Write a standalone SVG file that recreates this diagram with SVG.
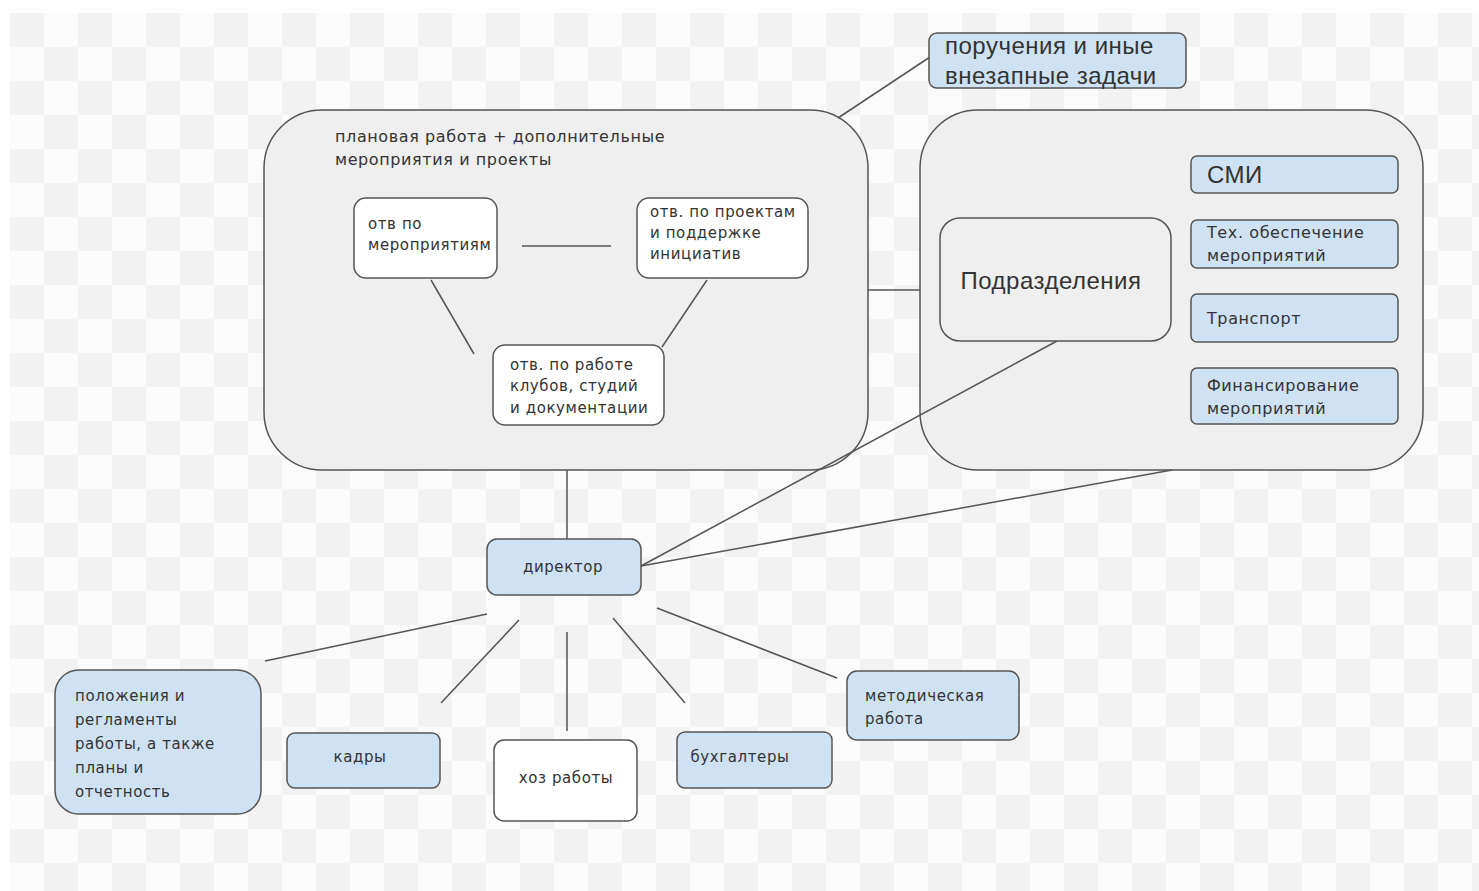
<svg xmlns="http://www.w3.org/2000/svg" width="1479" height="891" viewBox="0 0 1479 891">
<defs>
<pattern id="chk" x="10" y="13" width="68" height="68" patternUnits="userSpaceOnUse">
<rect width="68" height="68" fill="#fbfbfb"/>
<rect width="34" height="34" fill="#f2f2f2"/>
<rect x="34" y="34" width="34" height="34" fill="#f2f2f2"/>
</pattern>
<style>
.t{font-family:"DejaVu Sans",Verdana,sans-serif;font-size:15px;letter-spacing:0.6px;fill:#333}
.t16{font-family:"DejaVu Sans",Verdana,sans-serif;font-size:16px;letter-spacing:0.6px;fill:#333}
.big{font-family:"Liberation Sans",Arial,sans-serif;font-size:24px;letter-spacing:0.5px;fill:#333}
.grp{fill:#efefef;stroke:#555;stroke-width:1.5}
.blue{fill:#cfe2f3;stroke:#555;stroke-width:1.5}
.white{fill:#ffffff;stroke:#555;stroke-width:1.5}
.c line{stroke:#555;stroke-width:1.5}
</style>
</defs>
<rect width="1479" height="891" fill="#ffffff"/>
<rect x="10" y="13" width="1469" height="878" fill="url(#chk)"/>

<g id="group-plan">
<rect class="grp" x="264" y="110" width="604" height="360" rx="58"/>
<text class="t16" x="335" y="142">плановая работа + дополнительные</text>
<text class="t16" x="335" y="165">мероприятия и проекты</text>
</g>
<g id="group-units">
<rect class="grp" x="920" y="110" width="503" height="360" rx="58"/>
</g>

<g class="c" id="connectors">
<line x1="522" y1="246" x2="611" y2="246"/>
<line x1="431" y1="280" x2="474" y2="354"/>
<line x1="707" y1="280" x2="662" y2="347"/>
<line x1="838" y1="118" x2="930" y2="57"/>
<line x1="868" y1="290" x2="920" y2="290"/>
<line x1="567" y1="470" x2="567" y2="539"/>
<line x1="1057" y1="341" x2="641" y2="566"/>
<line x1="1172" y1="470" x2="641" y2="566"/>
<line x1="487" y1="614" x2="265" y2="661"/>
<line x1="519" y1="620" x2="441" y2="703"/>
<line x1="567" y1="632" x2="567" y2="731"/>
<line x1="613" y1="618" x2="685" y2="703"/>
<line x1="657" y1="608" x2="837" y2="678"/>
</g>

<g id="otv-meropr">
<rect class="white" x="354" y="198" width="143" height="80" rx="12"/>
<text class="t" x="368" y="229">отв по</text>
<text class="t" x="368" y="250">мероприятиям</text>
</g>
<g id="otv-proekty">
<rect class="white" x="637" y="198" width="171" height="80" rx="12"/>
<text class="t" x="650" y="217">отв. по проектам</text>
<text class="t" x="650" y="238">и поддержке</text>
<text class="t" x="650" y="259">инициатив</text>
</g>
<g id="otv-kluby">
<rect class="white" x="493" y="345" width="171" height="80" rx="12"/>
<text class="t" x="510" y="370">отв. по работе</text>
<text class="t" x="510" y="391">клубов, студий</text>
<text class="t" x="510" y="413">и документации</text>
</g>

<g id="porucheniya">
<rect class="blue" x="929" y="33" width="257" height="55" rx="8"/>
<text class="big" x="945" y="54">поручения и иные</text>
<text class="big" x="945" y="84">внезапные задачи</text>
</g>

<g id="podrazdeleniya">
<rect class="grp" x="940" y="218" width="231" height="123" rx="20"/>
<text class="big" x="1051" y="289" text-anchor="middle">Подразделения</text>
</g>
<g id="smi">
<rect class="blue" x="1191" y="156" width="207" height="37" rx="6"/>
<text class="big" x="1207" y="183">СМИ</text>
</g>
<g id="teh">
<rect class="blue" x="1191" y="220" width="207" height="48" rx="6"/>
<text class="t16" x="1207" y="238">Тех. обеспечение</text>
<text class="t16" x="1207" y="261">мероприятий</text>
</g>
<g id="transport">
<rect class="blue" x="1191" y="294" width="207" height="48" rx="6"/>
<text class="t16" x="1207" y="324">Транспорт</text>
</g>
<g id="finans">
<rect class="blue" x="1191" y="368" width="207" height="56" rx="6"/>
<text class="t16" x="1207" y="391">Финансирование</text>
<text class="t16" x="1207" y="414">мероприятий</text>
</g>

<g id="direktor">
<rect class="blue" x="487" y="539" width="154" height="56" rx="10"/>
<text class="t" x="563" y="572" text-anchor="middle">директор</text>
</g>

<g id="polozheniya">
<rect class="blue" x="55" y="670" width="206" height="144" rx="24"/>
<text class="t" x="75" y="701">положения и</text>
<text class="t" x="75" y="725">регламенты</text>
<text class="t" x="75" y="749">работы, а также</text>
<text class="t" x="75" y="773">планы и</text>
<text class="t" x="75" y="797">отчетность</text>
</g>
<g id="kadry">
<rect class="blue" x="287" y="733" width="153" height="55" rx="8"/>
<text class="t" x="360" y="762" text-anchor="middle">кадры</text>
</g>
<g id="hoz">
<rect class="white" x="494" y="740" width="143" height="81" rx="10"/>
<text class="t" x="566" y="783" text-anchor="middle">хоз работы</text>
</g>
<g id="buh">
<rect class="blue" x="677" y="732" width="155" height="56" rx="8"/>
<text class="t" x="740" y="762" text-anchor="middle">бухгалтеры</text>
</g>
<g id="metod">
<rect class="blue" x="847" y="671" width="172" height="69" rx="10"/>
<text class="t" x="865" y="701">методическая</text>
<text class="t" x="865" y="724">работа</text>
</g>
</svg>
